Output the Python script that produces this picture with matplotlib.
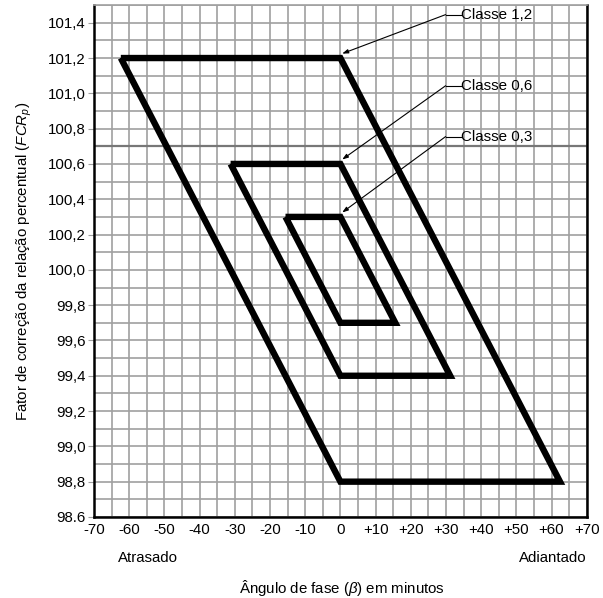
import matplotlib
matplotlib.use('Agg')
import matplotlib.pyplot as plt

plt.rcParams['font.family'] = ['Liberation Sans', 'DejaVu Sans']
plt.rcParams['mathtext.fontset'] = 'custom'
plt.rcParams['mathtext.rm'] = 'Liberation Sans'
plt.rcParams['mathtext.it'] = 'Liberation Sans:italic'

# parallelogram corners (phase angle in minutes, FCR in %)
class_names = ['Classe 1,2', 'Classe 0,6', 'Classe 0,3']
class_beta = [
    [-62.4, 0, 62.4, 0, -62.4],
    [-31.2, 0, 31.2, 0, -31.2],
    [-15.6, 0, 15.6, 0, -15.6],
]
class_fcr = [
    [101.2, 101.2, 98.8, 98.8, 101.2],
    [100.6, 100.6, 99.4, 99.4, 100.6],
    [100.3, 100.3, 99.7, 99.7, 100.3],
]

x_ticks = list(range(-70, 71, 10))
x_labels = ['-70', '-60', '-50', '-40', '-30', '-20', '-10', '0',
            '+10', '+20', '+30', '+40', '+50', '+60', '+70']
y_ticks = [98.6, 98.8, 99.0, 99.2, 99.4, 99.6, 99.8, 100.0,
           100.2, 100.4, 100.6, 100.8, 101.0, 101.2, 101.4]
y_labels = ['98.6', '98,8', '99,0', '99,2', '99,4', '99,6', '99,8', '100,0',
            '100,2', '100,4', '100,6', '100,8', '101,0', '101,2', '101,4']

fig = plt.figure(figsize=(6.03, 5.98), dpi=100)
ax = fig.add_axes([0.156, 0.1355, 0.817, 0.856])

ax.set_xlim(-70, 70)
ax.set_ylim(98.6, 101.5)

ax.set_xticks(x_ticks)
ax.set_xticklabels(x_labels, fontsize=10.8)
ax.set_xticks(range(-70, 71, 5), minor=True)
ax.set_yticks(y_ticks)
ax.set_yticklabels(y_labels, fontsize=10.8)
ax.set_yticks([98.6 + 0.1 * i for i in range(30)], minor=True)

ax.grid(True, which='both', color='#a0a0a0', linewidth=1.2)
ax.axhline(100.7, color='#777777', linewidth=1.6, zorder=1)
ax.set_axisbelow(True)

ax.tick_params(axis='x', which='both', length=0, pad=4)
ax.tick_params(axis='y', which='major', length=4, color='#a0a0a0', pad=2)
ax.tick_params(axis='y', which='minor', length=0)

for side in ['left', 'bottom', 'right']:
    ax.spines[side].set_linewidth(1.8)
    ax.spines[side].set_color('black')
ax.spines['top'].set_color('#a0a0a0')
ax.spines['top'].set_linewidth(1.2)

for xs, ys in zip(class_beta, class_fcr):
    ax.plot(xs, ys, color='black', linewidth=4.6, solid_joinstyle='miter',
            solid_capstyle='butt', zorder=3)

# labels with leader lines
label_y = [101.446, 101.043, 100.755]
for name, xs, ys, ly in zip(class_names, class_beta, class_fcr, label_y):
    ax.text(34.3, ly, name, fontsize=10.9, va='center', ha='left')
    ax.plot([29.9, 34.2], [ly, ly], color='black', linewidth=0.8, zorder=4)
    ax.annotate('', xy=(0.5, ys[1] + 0.025), xytext=(29.9, ly),
                arrowprops=dict(arrowstyle='-|>,head_length=0.35,head_width=0.12',
                                color='black', linewidth=0.8,
                                shrinkA=0, shrinkB=0), zorder=4)

ax.set_ylabel(r'Fator de correção da relação percentual $\mathit{(FCR_p)}$',
              fontsize=10.8)
ax.yaxis.set_label_coords(-0.122, 0.5)

fig.text(148 / 603, 1 - 558 / 598, 'Atrasado', fontsize=10.8, ha='center', va='center')
fig.text(553 / 603, 1 - 558 / 598, 'Adiantado', fontsize=10.8, ha='center', va='center')
fig.text(342 / 603, 1 - 588 / 598, 'Ângulo de fase (' + r'$\mathit{\beta}$' + ') em minutos',
         fontsize=10.8, ha='center', va='center')

fig.savefig('out.png', dpi=100)
